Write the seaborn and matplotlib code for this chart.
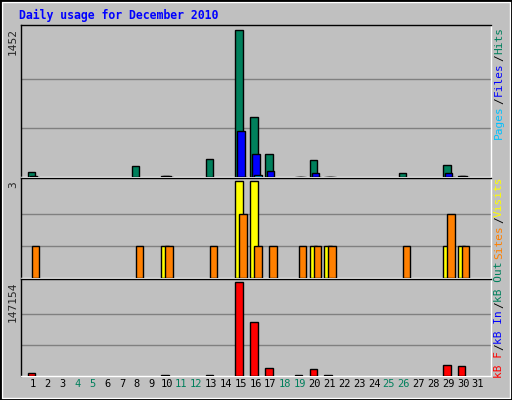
import numpy as np
import matplotlib
matplotlib.use("Agg")
import matplotlib.pyplot as plt
import seaborn as sns

# Data
days = list(range(1, 32))
weekend_days = [4, 5, 11, 12, 18, 19, 25, 26]
hits = [45, 0, 0, 0, 0, 0, 0, 110, 0, 10, 0, 0, 180, 0, 1452, 590, 230, 0, 3,
        170, 4, 0, 0, 0, 0, 40, 0, 0, 120, 10, 0]
files = [8, 0, 0, 0, 0, 0, 0, 0, 0, 5, 0, 0, 0, 0, 450, 230, 60, 0, 3,
         35, 4, 0, 0, 0, 0, 0, 0, 0, 35, 8, 0]
pages = [3, 0, 0, 0, 0, 0, 0, 0, 0, 3, 0, 0, 0, 0, 3, 15, 0, 0, 3,
         3, 3, 0, 0, 0, 0, 0, 0, 0, 3, 3, 0]
visits = [0, 0, 0, 0, 0, 0, 0, 0, 0, 1, 0, 0, 0, 0, 3, 3, 0, 0, 0,
          1, 1, 0, 0, 0, 0, 0, 0, 0, 1, 1, 0]
sites = [1, 0, 0, 0, 0, 0, 0, 1, 0, 1, 0, 0, 1, 0, 2, 1, 1, 0, 1,
         1, 1, 0, 0, 0, 0, 1, 0, 0, 2, 1, 0]
kbytes = [5000, 0, 0, 0, 0, 0, 0, 0, 0, 1000, 0, 0, 1000, 0, 147154, 84800, 12800,
          0, 1000, 11200, 1000, 0, 0, 0, 0, 0, 0, 0, 17600, 16000, 0]

C_HITS, C_FILES, C_PAGES = "#00805c", "#0000ff", "#00c0ff"
C_VISITS, C_SITES, C_KB = "#ffff00", "#ff8000", "#ff0000"
BG = "#c0c0c0"
MONO = "DejaVu Sans Mono"

sns.set_style("white")
W, H = 512, 400
fig = plt.figure(figsize=(W / 100, H / 100), dpi=100, facecolor=BG)
fig.patches.append(plt.Rectangle((0.004, 0.005), 0.992, 0.99, transform=fig.transFigure,
                                 fill=False, edgecolor="white", lw=1))
fig.patches.append(plt.Rectangle((0, 0), 1, 1, transform=fig.transFigure,
                                 fill=False, edgecolor="black", lw=2))


def px_axes(top, bottom):
    return fig.add_axes([21 / W, 1 - bottom / H, 470 / W, (bottom - top) / H])


x = np.array(days)
bw = 0.5
panels = [
    (25, 177, [(hits, C_HITS, -0.1), (files, C_FILES, 0.03), (pages, C_PAGES, 0.17)], 1452),
    (178, 278, [(visits, C_VISITS, -0.1), (sites, C_SITES, 0.17)], 3),
    (279, 376, [(kbytes, C_KB, -0.1)], 147154),
]
axes = []
for top, bottom, series, vmax in panels:
    ax = px_axes(top, bottom)
    ax.set_facecolor(BG)
    for vals, col, off in series:
        v = np.array(vals, dtype=float)
        m = v > 0
        ax.bar(x[m] + off, v[m], width=bw, color=col, edgecolor="black", lw=1, zorder=3)
    ax.set_xlim(0.19, 31.88)
    ax.set_ylim(0, vmax * 1.035)
    for g in (vmax / 3, 2 * vmax / 3):
        ax.axhline(g, color="#808080", lw=1, zorder=1)
    ax.set_xticks([])
    ax.set_yticks([])
    for s in ax.spines.values():
        s.set_color("black")
        s.set_linewidth(1)
    ax.spines["bottom"].set_color("white")
    ax.spines["right"].set_color("white")
    fig.text(8 / W, 1 - (top + 3) / H, f"{vmax}", rotation=90, ha="left", va="top",
             fontsize=8, family=MONO)
    axes.append(ax)

# day labels
for d in days:
    col = C_HITS if d in weekend_days else "black"
    axes[-1].text(d, -0.03, str(d), transform=axes[-1].get_xaxis_transform(),
                  ha="center", va="top", fontsize=7.5, family=MONO, color=col)

fig.text(19 / W, 1 - 15 / H, "Daily usage for December 2010", ha="left", va="center",
         fontsize=8.3, family=MONO, fontweight="bold", color="#0000ff")

# right side legend pieces (text, colour, centre y in px)
legend_bits = [
    ("Pages", C_PAGES, 122), ("/", "black", 101), ("Files", C_FILES, 79),
    ("/", "black", 58), ("Hits", C_HITS, 41),
    ("Sites", C_SITES, 242), ("/", "black", 220), ("Visits", C_VISITS, 197),
    ("kB F", C_KB, 365), ("/", "black", 347), ("kB In", C_FILES, 327),
    ("/", "black", 305), ("kB Out", C_HITS, 282),
]
for txt, col, yc in legend_bits:
    fig.text(499 / W, 1 - yc / H, txt, rotation=90, ha="center", va="center",
             fontsize=8, family=MONO, color=col)

fig.savefig("out.png", dpi=100, facecolor=BG)
